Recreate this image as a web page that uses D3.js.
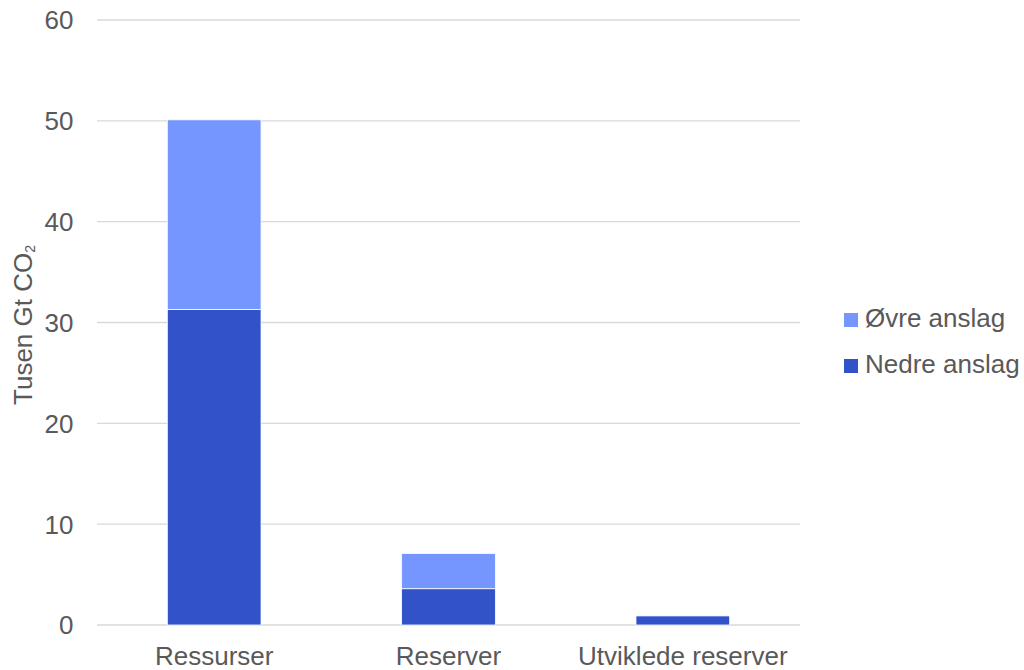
<!DOCTYPE html>
<html>
<head>
<meta charset="utf-8">
<script src="https://cdn.jsdelivr.net/npm/d3@7"></script>
<style>
  body { margin: 0; background: #fff; }
  text { font-family: "Liberation Sans", Arial, sans-serif; fill: #595959; }
</style>
</head>
<body>
<div id="main"></div>
<script>
var categories = ["Ressurser", "Reserver", "Utviklede reserver"];
var nedre = [31.3, 3.6, 0.9];
var ovre = [18.8, 3.5, 0];
var yTicks = [0, 10, 20, 30, 40, 50, 60];
var seriesNames = ["Øvre anslag", "Nedre anslag"];
var seriesColors = ["#7596FF", "#3152C8"];

var ctx = {
    w: 1024,
    h: 670,
    left: 97,
    right: 800,
    top: 20,
    bottom: 625,
    FONT: "26px"
};

var createViz = function(){
    var svg = d3.select("#main").append("svg")
        .attr("width", ctx.w)
        .attr("height", ctx.h);

    var x = d3.scaleBand().domain(categories)
        .range([ctx.left, ctx.right])
        .paddingInner(0.6).paddingOuter(0.3);
    var y = d3.scaleLinear().domain([0, 60]).range([ctx.bottom, ctx.top]);

    // gridlines
    svg.append("g").selectAll("line")
        .data(yTicks).enter().append("line")
        .attr("x1", ctx.left).attr("x2", ctx.right)
        .attr("y1", function(d){ return y(d); })
        .attr("y2", function(d){ return y(d); })
        .style("stroke", "#D9D9D9")
        .style("stroke-width", 1.3);

    // y axis labels
    var yAxis = svg.append("g")
        .attr("transform", "translate(" + (ctx.left - 23.5) + ",0)")
        .call(d3.axisLeft(y).tickValues(yTicks).tickSize(0).tickPadding(0));
    yAxis.select(".domain").remove();
    yAxis.selectAll("text")
        .attr("dy", "0.34em")
        .style("font-size", ctx.FONT)
        .style("fill", "#595959")
        .style("font-family", "Liberation Sans, Arial, sans-serif");

    // stacked bars
    var rows = categories.map(function(c, i){ return {cat: c, nedre: nedre[i], ovre: ovre[i]}; });
    var stack = d3.stack().keys(["nedre", "ovre"])(rows);
    var colorFor = {nedre: seriesColors[1], ovre: seriesColors[0]};
    svg.append("g").selectAll("g")
        .data(stack).enter().append("g")
        .style("fill", function(s){ return colorFor[s.key]; })
        .selectAll("rect")
        .data(function(s){ return s.filter(function(d){ return d[1] - d[0] > 0; }); })
        .enter().append("rect")
        .attr("x", function(d){ return x(d.data.cat); })
        .attr("width", x.bandwidth())
        .attr("y", function(d){ return y(d[1]); })
        .attr("height", function(d){ return y(d[0]) - y(d[1]); })
        .style("stroke", "#fff")
        .style("stroke-width", 0.8);

    // x axis labels
    var xAxis = svg.append("g")
        .attr("transform", "translate(0," + ctx.bottom + ")")
        .call(d3.axisBottom(x).tickSize(0));
    xAxis.select(".domain").remove();
    xAxis.selectAll("text")
        .attr("y", 39.5)
        .attr("dy", 0)
        .style("font-size", ctx.FONT)
        .style("fill", "#595959")
        .style("font-family", "Liberation Sans, Arial, sans-serif");

    // y axis title
    var title = svg.append("text")
        .attr("transform", "translate(32,325) rotate(-90)")
        .style("text-anchor", "middle")
        .style("font-size", ctx.FONT);
    title.append("tspan").text("Tusen Gt CO");
    title.append("tspan").attr("dy", 3).style("font-size", "14px").text("2");

    // legend
    var legend = svg.append("g").attr("transform", "translate(844,313)");
    var item = legend.selectAll("g").data(seriesNames).enter().append("g")
        .attr("transform", function(d, i){ return "translate(0," + (i * 46) + ")"; });
    item.append("rect")
        .attr("width", 14).attr("height", 14)
        .style("fill", function(d, i){ return seriesColors[i]; });
    item.append("text")
        .attr("x", 21).attr("y", 14)
        .style("font-size", ctx.FONT)
        .text(function(d){ return d; });
};

createViz();
</script>
</body>
</html>
